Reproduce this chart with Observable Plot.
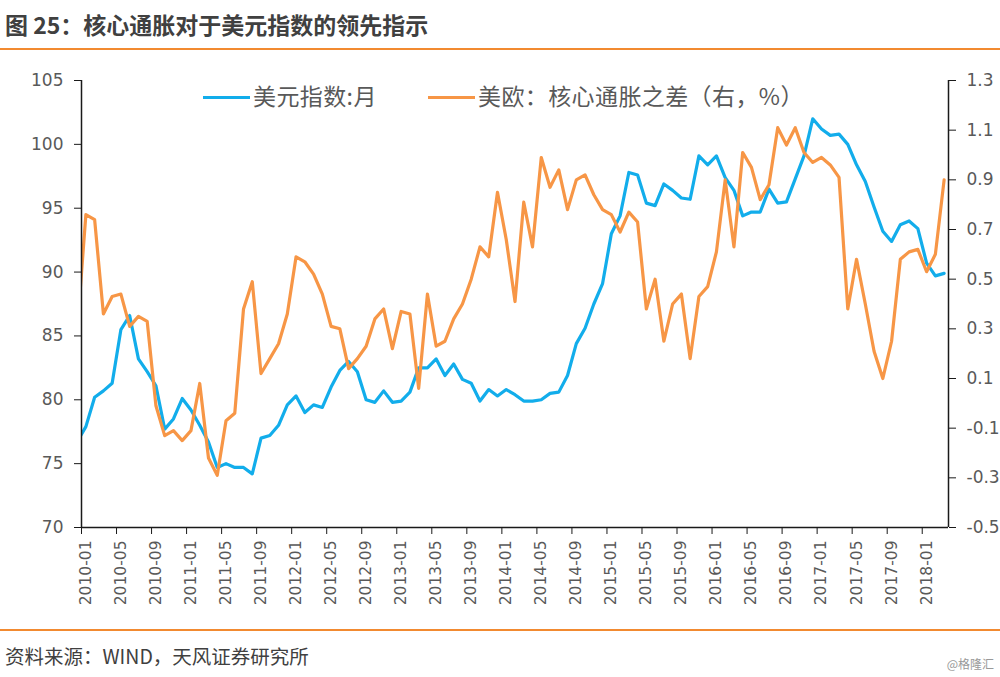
<!DOCTYPE html>
<html><head><meta charset="utf-8">
<script src="https://cdn.jsdelivr.net/npm/d3@7"></script>
<script src="https://cdn.jsdelivr.net/npm/@observablehq/plot@0.6"></script>
<style>
body{margin:0;background:#fff;width:1000px;height:677px;position:relative;overflow:hidden;font-family:"Noto Sans CJK SC",sans-serif;}
#title{position:absolute;left:5px;top:12px;font-size:23px;font-weight:bold;color:#404040;line-height:25px;white-space:nowrap;}
.rule{position:absolute;left:0;width:1000px;height:2px;background:#F28A30;}
#chart{position:absolute;left:0;top:50px;}
.leg{position:absolute;top:81px;font-size:23px;letter-spacing:0.4px;color:#595959;line-height:28px;white-space:nowrap;}
.leg i{display:inline-block;width:47px;height:3px;vertical-align:middle;margin-right:3px;position:relative;top:-1px;}
#source{position:absolute;left:5px;top:641px;font-size:19.5px;color:#404040;white-space:nowrap;}
#mark{position:absolute;right:6px;top:655px;font-size:12px;color:#999;white-space:nowrap;}
</style></head>
<body>
<div id="title">图 25：核心通胀对于美元指数的领先指示</div>
<div class="rule" style="top:48px"></div>
<div id="chart"></div>
<div class="leg" style="left:203px"><i style="background:#12ADEB"></i>美元指数:月</div>
<div class="leg" style="left:428px"><i style="background:#F79646"></i>美欧：核心通胀之差（右，%）</div>
<div class="rule" style="top:629px"></div>
<div id="source">资料来源：WIND，天风证券研究所</div>
<div id="mark">@格隆汇</div>
<script>
// Monthly categories: 2009-12 (partly visible at the left edge) to 2018-03
const months = d3.utcMonth.range(new Date(Date.UTC(2009, 11, 1)), new Date(Date.UTC(2018, 3, 1))).map(d3.utcFormat("%Y-%m"));

// 美元指数:月 (left axis)
const usd = [76.7,
  77.9, 80.2, 80.7, 81.3, 85.5, 86.6, 83.2, 82.2, 81.1, 77.7, 78.5, 80.1,
  79.2, 78.0, 76.7, 74.7, 75.0, 74.7, 74.7, 74.2, 77.0, 77.2, 78.0, 79.6,
  80.3, 79.0, 79.6, 79.4, 81.0, 82.3, 83.0, 82.2, 80.0, 79.8, 80.7, 79.8,
  79.9, 80.6, 82.5, 82.5, 83.2, 81.9, 82.8, 81.6, 81.3, 79.9, 80.8, 80.3,
  80.8, 80.4, 79.9, 79.9, 80.0, 80.5, 80.6, 81.9, 84.4, 85.6, 87.5, 89.1,
  93.0, 94.4, 97.8, 97.6, 95.4, 95.2, 96.9, 96.4, 95.8, 95.7, 99.1, 98.4,
  99.1, 97.4, 96.4, 94.4, 94.7, 94.7, 96.5, 95.4, 95.5, 97.3, 99.1, 102.0,
  101.2, 100.7, 100.8, 100.0, 98.4, 97.1, 95.1, 93.2, 92.4, 93.7, 94.0, 93.4,
  90.7, 89.7, 89.9];

// 美欧：核心通胀之差（右，%）
const diff = [0.29,
  0.76, 0.74, 0.36, 0.43, 0.44, 0.31, 0.35, 0.33, -0.01, -0.13, -0.11, -0.15,
  -0.11, 0.08, -0.22, -0.29, -0.07, -0.04, 0.38, 0.49, 0.12, 0.18, 0.24, 0.36,
  0.59, 0.57, 0.52, 0.44, 0.31, 0.30, 0.14, 0.18, 0.23, 0.34, 0.38, 0.22,
  0.37, 0.36, 0.06, 0.44, 0.23, 0.25, 0.34, 0.40, 0.50, 0.63, 0.59, 0.85,
  0.66, 0.41, 0.81, 0.63, 0.99, 0.87, 0.94, 0.78, 0.90, 0.92, 0.84, 0.78,
  0.76, 0.69, 0.77, 0.73, 0.38, 0.50, 0.25, 0.40, 0.44, 0.18, 0.43, 0.47,
  0.61, 0.90, 0.63, 1.01, 0.95, 0.82, 0.88, 1.11, 1.04, 1.11, 1.01, 0.97,
  0.99, 0.96, 0.91, 0.38, 0.58, 0.40, 0.21, 0.10, 0.25, 0.58, 0.61, 0.62,
  0.53, 0.60, 0.90];

const leftTicks = [70, 75, 80, 85, 90, 95, 100, 105];
const rightTicks = [-0.5, -0.3, -0.1, 0.1, 0.3, 0.5, 0.7, 0.9, 1.1, 1.3];
const xTickLabels = ["2010-01","2010-05","2010-09","2011-01","2011-05","2011-09","2012-01","2012-05","2012-09",
  "2013-01","2013-05","2013-09","2014-01","2014-05","2014-09","2015-01","2015-05","2015-09",
  "2016-01","2016-05","2016-09","2017-01","2017-05","2017-09","2018-01"];

const blue = "#12ADEB", orange = "#F79646", axisColor = "#1a1a1a", textColor = "#595959";
const lMin = 70, lMax = 105, rMin = -0.5, rMax = 1.3;
const toLeft = r => lMin + (r - rMin) * (lMax - lMin) / (rMax - rMin);
const fromLeft = v => rMin + (v - lMin) * (rMax - rMin) / (lMax - lMin);

// category k (2009-12 = -1 ... 2018-03 = 98) centred between boundaries
const data = months.map((m, k) => ({m, pos: k - 0.5, usd: usd[k], diff: diff[k]}));
const posOf = m => months.indexOf(m) - 0.5;
const labelPos = xTickLabels.map(posOf);
const boundaryTicks = labelPos.map(p => p - 0.5);

const chart = Plot.plot({
  width: 1000,
  height: 575,
  marginTop: 30,
  marginBottom: 98,
  marginLeft: 81,
  marginRight: 52,
  style: {fontFamily: "DejaVu Sans", fontSize: "17px", background: "transparent", overflow: "visible"},
  x: {type: "linear", domain: [0, months.length - 1]},
  y: {domain: [lMin, lMax]},
  marks: [
    Plot.line(data, {x: "pos", y: "usd", stroke: blue, strokeWidth: 3.2, clip: true}),
    Plot.line(data, {x: "pos", y: d => toLeft(d.diff), stroke: orange, strokeWidth: 3.2, clip: true}),
    Plot.ruleX([0, months.length - 1], {stroke: axisColor, strokeWidth: 1.5}),
    Plot.ruleY([lMin], {stroke: axisColor, strokeWidth: 1.5}),
    Plot.axisY({anchor: "left", ticks: leftTicks, tickSize: 7, tickPadding: 11, stroke: axisColor, fill: textColor, label: null, fontSize: 17}),
    Plot.axisY({anchor: "right", ticks: rightTicks.map(toLeft), tickFormat: v => (Math.round(fromLeft(v) * 10) / 10).toFixed(1), tickSize: 7, tickPadding: 11, stroke: axisColor, fill: textColor, label: null, fontSize: 17}),
    Plot.axisX({anchor: "bottom", ticks: boundaryTicks, tickSize: 7, tickFormat: () => "", stroke: axisColor, label: null}),
    Plot.axisX({anchor: "bottom", ticks: labelPos, tickSize: 0, tickPadding: 13, tickRotate: -90, tickFormat: v => months[Math.round(v + 0.5)], fill: textColor, label: null, fontSize: 15.5})
  ]
});
document.getElementById("chart").appendChild(chart);
</script>
</body></html>
